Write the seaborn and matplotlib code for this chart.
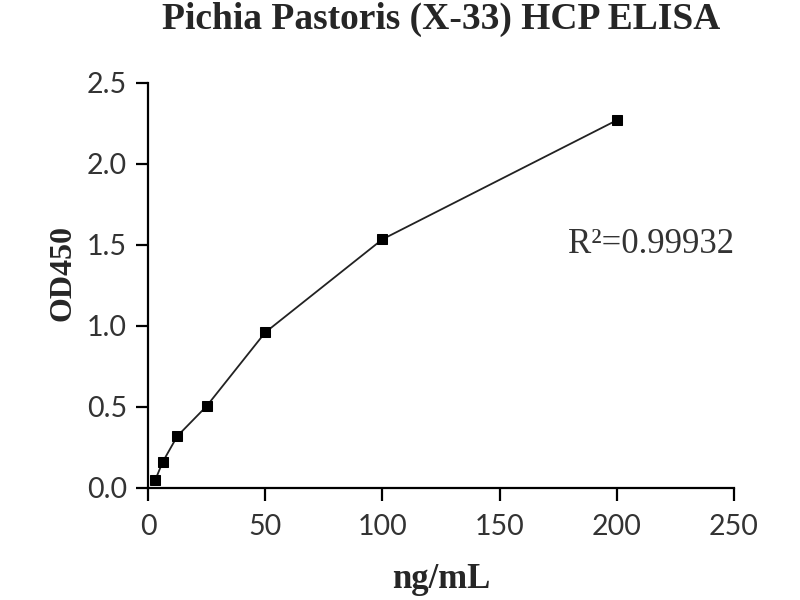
import pandas as pd
import seaborn as sns
import matplotlib.pyplot as plt

# standard curve data
conc = [3.125, 6.25, 12.5, 25, 50, 100, 200]
od450 = [0.05, 0.16, 0.32, 0.505, 0.96, 1.535, 2.27]
x_ticks = [0, 50, 100, 150, 200, 250]
y_ticks = [0.0, 0.5, 1.0, 1.5, 2.0, 2.5]

data = pd.DataFrame({'ng/mL': conc, 'OD450': od450})

sns.set_style('ticks')
plt.rcParams['font.family'] = ['Lato', 'DejaVu Sans']

fig = plt.figure(figsize=(8, 6), dpi=100)
ax = fig.add_axes([0.185, 0.1867, 0.7325, 0.675])

sns.lineplot(x='ng/mL', y='OD450', data=data, ax=ax, color='#222222',
             linewidth=1.3, marker='s', markersize=7,
             markerfacecolor='black', markeredgecolor='black')

ax.set_xlim(0, 250)
ax.set_ylim(0, 2.5)
ax.set_xticks(x_ticks)
ax.set_xticklabels([str(v) for v in x_ticks])
ax.set_yticks(y_ticks)
ax.set_yticklabels([f'{v:.1f}' for v in y_ticks])

sns.despine(ax=ax)
for side in ['left', 'bottom']:
    ax.spines[side].set_linewidth(1.6)
    ax.spines[side].set_color('black')
ax.tick_params(axis='both', direction='out', length=9, width=1.6,
               labelsize=20.5, colors='black', labelcolor='#333333')
ax.tick_params(axis='x', pad=10)
ax.tick_params(axis='y', pad=6)

serif = ['Liberation Serif', 'DejaVu Serif']
ax.set_title('Pichia Pastoris (X-33) HCP ELISA', fontsize=27, fontweight='bold',
             family=serif, pad=39)
ax.set_xlabel('ng/mL', fontsize=25, fontweight='bold', family=serif, labelpad=16)
ax.set_ylabel('OD450', fontsize=23, fontweight='bold', family=serif)
ax.yaxis.set_label_coords(-0.12, 0.53)

ax.text(250, 1.5, 'R\u00b2=0.99932', fontsize=25, family=serif,
        color='#333333', ha='right', va='center')

fig.savefig('out.png', dpi=100)
